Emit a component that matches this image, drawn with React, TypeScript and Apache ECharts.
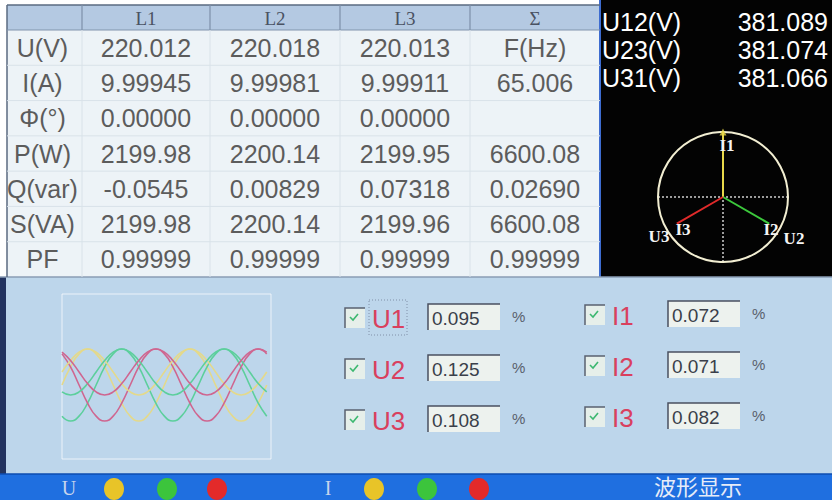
import { useEffect, useRef } from "react";
import * as echarts from "echarts";

// ---------- data ----------
const columnHeads = ["L1", "L2", "L3", "Σ"];
const rowLabels = ["U(V)", "I(A)", "Φ(°)", "P(W)", "Q(var)", "S(VA)", "PF"];
const valuesL1 = ["220.012", "9.99945", "0.00000", "2199.98", "-0.0545", "2199.98", "0.99999"];
const valuesL2 = ["220.018", "9.99981", "0.00000", "2200.14", "0.00829", "2200.14", "0.99999"];
const valuesL3 = ["220.013", "9.99911", "0.00000", "2199.95", "0.07318", "2199.96", "0.99999"];
const valuesSum = ["F(Hz)", "65.006", "", "6600.08", "0.02690", "6600.08", "0.99999"];

const lineVoltLabels = ["U12(V)", "U23(V)", "U31(V)"];
const lineVoltValues = ["381.089", "381.074", "381.066"];

const phasorNames = ["I1", "I2", "I3"];
const phasorAngles = [90, 330, 210];
const phasorLengths = [1, 0.82, 0.82];
const phaseColors = ["#e8d84a", "#3cc83c", "#e02a2a"];
const lampColors = ["#e8c428", "#3cc43c", "#e32a2a"];

const waveAngles = [0, 30, 60, 90, 120, 150, 180, 210, 240, 270, 300, 330, 360, 390, 420, 450, 480, 510, 540, 570, 600, 630, 660, 690, 720];
const u1Wave = [0, 156, 269, 311, 269, 156, 0, -156, -269, -311, -269, -156, 0, 156, 269, 311, 269, 156, 0, -156, -269, -311, -269, -156, 0];
const u2Wave = [-269, -311, -269, -156, 0, 156, 269, 311, 269, 156, 0, -156, -269, -311, -269, -156, 0, 156, 269, 311, 269, 156, 0, -156, -269];
const u3Wave = [269, 156, 0, -156, -269, -311, -269, -156, 0, 156, 269, 311, 269, 156, 0, -156, -269, -311, -269, -156, 0, 156, 269, 311, 269];
const i1Wave = [0, 7.1, 12.2, 14.1, 12.2, 7.1, 0, -7.1, -12.2, -14.1, -12.2, -7.1, 0, 7.1, 12.2, 14.1, 12.2, 7.1, 0, -7.1, -12.2, -14.1, -12.2, -7.1, 0];
const i2Wave = [-12.2, -14.1, -12.2, -7.1, 0, 7.1, 12.2, 14.1, 12.2, 7.1, 0, -7.1, -12.2, -14.1, -12.2, -7.1, 0, 7.1, 12.2, 14.1, 12.2, 7.1, 0, -7.1, -12.2];
const i3Wave = [12.2, 7.1, 0, -7.1, -12.2, -14.1, -12.2, -7.1, 0, 7.1, 12.2, 14.1, 12.2, 7.1, 0, -7.1, -12.2, -14.1, -12.2, -7.1, 0, 7.1, 12.2, 14.1, 12.2];
const waveColors = ["#e4d98a", "#5ccf9c", "#cf6690"];

const uChannels = ["U1", "U2", "U3"];
const iChannels = ["I1", "I2", "I3"];
const harmonicU = ["0.095", "0.125", "0.108"];
const harmonicI = ["0.072", "0.071", "0.082"];

// ---------- layout ----------
const colEdges = [7, 82, 210, 340, 470, 600];
const headTop = 5;
const headBottom = 30;
const tableBottom = 277;
const rowH = (tableBottom - headBottom) / rowLabels.length;
const SANS = "Liberation Sans, Arial, sans-serif";
const SERIF = "Liberation Serif, Times New Roman, serif";

function buildGraphics() {
  const els: any[] = [];
  const bg = (e: any) => els.push({ ...e, z: -10 });
  const fg = (e: any) => els.push({ ...e, z: 100 });

  // panels
  bg({ type: "rect", shape: { x: 7, y: headBottom, width: 593, height: tableBottom - headBottom }, style: { fill: "#edf3f7" } });
  bg({ type: "rect", shape: { x: 7, y: headTop, width: 593, height: headBottom - headTop }, style: { fill: "#b4c9e2" } });
  bg({ type: "rect", shape: { x: 600, y: 0, width: 232, height: tableBottom }, style: { fill: "#030303" } });
  bg({ type: "line", shape: { x1: 600, y1: 0, x2: 600, y2: tableBottom }, style: { stroke: "#3d6cd0", lineWidth: 2 } });
  bg({ type: "rect", shape: { x: 0, y: tableBottom, width: 832, height: 474 - tableBottom }, style: { fill: "#bdd6eb" } });
  bg({ type: "rect", shape: { x: 0, y: tableBottom, width: 6, height: 500 - tableBottom }, style: { fill: "#22335f" } });
  bg({ type: "line", shape: { x1: 0, y1: tableBottom, x2: 832, y2: tableBottom }, style: { stroke: "#8a9cb4", lineWidth: 1.5 } });
  bg({ type: "rect", shape: { x: 0, y: 474, width: 832, height: 26 }, style: { fill: "#1f6fe0" } });
  bg({ type: "line", shape: { x1: 0, y1: 474, x2: 832, y2: 474 }, style: { stroke: "#0e4cb0", lineWidth: 1.5 } });

  // table lines
  bg({ type: "line", shape: { x1: 7, y1: headTop, x2: 600, y2: headTop }, style: { stroke: "#5a6a80", lineWidth: 1.5 } });
  bg({ type: "line", shape: { x1: 7, y1: headTop, x2: 7, y2: tableBottom }, style: { stroke: "#5a6a80", lineWidth: 1.5 } });
  bg({ type: "line", shape: { x1: 7, y1: headBottom, x2: 600, y2: headBottom }, style: { stroke: "#8194ad", lineWidth: 1 } });
  for (let c = 1; c < colEdges.length - 1; c++) {
    bg({ type: "line", shape: { x1: colEdges[c], y1: headTop, x2: colEdges[c], y2: headBottom }, style: { stroke: "#7d90aa", lineWidth: 1.2 } });
    bg({ type: "line", shape: { x1: colEdges[c], y1: headBottom, x2: colEdges[c], y2: tableBottom }, style: { stroke: "#d9e2e9", lineWidth: 1 } });
  }
  for (let r = 1; r < rowLabels.length; r++) {
    const y = headBottom + r * rowH;
    bg({ type: "line", shape: { x1: 7, y1: y, x2: 600, y2: y }, style: { stroke: "#d9e2e9", lineWidth: 1 } });
  }

  // header texts
  columnHeads.forEach((h, i) => {
    fg({
      type: "text",
      x: (colEdges[i + 1] + colEdges[i + 2]) / 2,
      y: (headTop + headBottom) / 2 + 1,
      style: { text: h, fill: "#4a5262", font: `19px ${SERIF}`, align: "center", verticalAlign: "middle" },
    });
  });

  // body texts
  const cols = [rowLabels, valuesL1, valuesL2, valuesL3, valuesSum];
  cols.forEach((col, c) => {
    col.forEach((v, r) => {
      if (!v) return;
      fg({
        type: "text",
        x: (colEdges[c] + colEdges[c + 1]) / 2 + (c === 0 ? -2 : 0),
        y: headBottom + (r + 0.5) * rowH,
        style: { text: v, fill: "#5c5c5c", font: `25px ${SANS}`, align: "center", verticalAlign: "middle" },
      });
    });
  });

  // line voltages
  lineVoltLabels.forEach((l, i) => {
    const y = 22 + i * 28;
    fg({ type: "text", x: 602, y, style: { text: l, fill: "#ffffff", font: `25px ${SANS}`, align: "left", verticalAlign: "middle" } });
    fg({ type: "text", x: 828, y, style: { text: lineVoltValues[i], fill: "#ffffff", font: `25px ${SANS}`, align: "right", verticalAlign: "middle" } });
  });

  // phasor labels
  const plab = [
    { t: "I1", x: 727, y: 145 },
    { t: "I3", x: 683, y: 229 },
    { t: "U3", x: 659, y: 236 },
    { t: "I2", x: 771, y: 229 },
    { t: "U2", x: 794, y: 238 },
  ];
  plab.forEach((p) =>
    fg({ type: "text", x: p.x, y: p.y, style: { text: p.t, fill: "#f4f4f4", font: `bold 17px ${SERIF}`, align: "center", verticalAlign: "middle" } })
  );

  // harmonic controls
  const drawRow = (x0: number, y0: number, name: string, val: string, focus: boolean, labelW: number) => {
    const cy = y0 + 13;
    fg({ type: "rect", shape: { x: x0, y: cy - 9, width: 20, height: 20 }, style: { fill: "#e6efea" } });
    fg({ type: "polyline", shape: { points: [[x0, cy + 11], [x0, cy - 9], [x0 + 20, cy - 9]] }, style: { stroke: "#5a6270", lineWidth: 1.5, fill: null } });
    fg({ type: "polyline", shape: { points: [[x0 + 5, cy], [x0 + 8, cy + 3], [x0 + 13, cy - 3]] }, style: { stroke: "#3cb870", lineWidth: 1.6, fill: null } });
    fg({ type: "text", x: x0 + 27, y: cy + 2, style: { text: name, fill: "#d9405e", font: `26px ${SANS}`, align: "left", verticalAlign: "middle" } });
    if (focus) {
      fg({ type: "rect", shape: { x: x0 + 24, y: cy - 17, width: labelW, height: 35 }, style: { fill: null, stroke: "#8090a8", lineWidth: 1, lineDash: [1, 2] } });
    }
    const bx = x0 + 83;
    fg({ type: "rect", shape: { x: bx, y: y0, width: 72, height: 26 }, style: { fill: "#edf2ee" } });
    fg({ type: "polyline", shape: { points: [[bx, y0 + 26], [bx, y0], [bx + 72, y0]] }, style: { stroke: "#4a5060", lineWidth: 1.5, fill: null } });
    fg({ type: "text", x: bx + 4, y: y0 + 14, style: { text: val, fill: "#3a3f4a", font: `19px ${SANS}`, align: "left", verticalAlign: "middle" } });
    fg({ type: "text", x: bx + 84, y: y0 + 12, style: { text: "%", fill: "#59606c", font: `15px ${SANS}`, align: "left", verticalAlign: "middle" } });
  };
  uChannels.forEach((n, i) => drawRow(345, 304 + i * 51, n, harmonicU[i], i === 0, 38));
  iChannels.forEach((n, i) => drawRow(585, 301 + i * 51, n, harmonicI[i], false, 30));

  // bottom bar
  fg({ type: "text", x: 69, y: 488, style: { text: "U", fill: "#c8d4ec", font: `20px ${SERIF}`, align: "center", verticalAlign: "middle" } });
  fg({ type: "text", x: 328, y: 488, style: { text: "I", fill: "#c8d4ec", font: `20px ${SERIF}`, align: "center", verticalAlign: "middle" } });
  [114, 167, 217].forEach((cx, i) => fg({ type: "ellipse", shape: { cx, cy: 489, rx: 10, ry: 11 }, style: { fill: lampColors[i] } }));
  [374, 427, 479].forEach((cx, i) => fg({ type: "ellipse", shape: { cx, cy: 489, rx: 10, ry: 11 }, style: { fill: lampColors[i] } }));
  fg({ type: "text", x: 654, y: 485, style: { text: "波形显示", fill: "#e6ecf8", font: `22px "Noto Sans CJK SC", sans-serif`, align: "left", verticalAlign: "middle" } });

  return els;
}

function buildOption(): any {
  const uWaves = [u1Wave, u2Wave, u3Wave];
  const iWaves = [i1Wave, i2Wave, i3Wave];
  const waveSeries: any[] = [];
  uWaves.forEach((w, k) =>
    waveSeries.push({
      name: uChannels[k],
      type: "line",
      xAxisIndex: 0,
      yAxisIndex: 0,
      data: waveAngles.map((a, i) => [a, w[i]]),
      smooth: true,
      showSymbol: false,
      lineStyle: { color: waveColors[k], width: 1.6 },
      z: 5,
    })
  );
  iWaves.forEach((w, k) =>
    waveSeries.push({
      name: iChannels[k],
      type: "line",
      xAxisIndex: 0,
      yAxisIndex: 1,
      data: waveAngles.map((a, i) => [a, w[i]]),
      smooth: true,
      showSymbol: false,
      lineStyle: { color: waveColors[k], width: 1.6 },
      z: 5,
    })
  );

  const phasorSeries: any[] = phasorNames.map((n, k) => ({
    name: "phasor " + n,
    type: "line",
    coordinateSystem: "polar",
    data: [
      [0, phasorAngles[k]],
      [phasorLengths[k], phasorAngles[k]],
    ],
    symbol: "none",
    lineStyle: { color: phaseColors[k], width: 2 },
    z: 10,
  }));
  phasorSeries.push({
    name: "arrow",
    type: "scatter",
    coordinateSystem: "polar",
    data: [[phasorLengths[0], phasorAngles[0]]],
    symbol: "triangle",
    symbolSize: [7, 7],
    itemStyle: { color: phaseColors[0] },
    z: 11,
  });

  return {
    animation: false,
    backgroundColor: "#ffffff",
    grid: {
      left: 62,
      top: 294,
      width: 209,
      height: 165,
      show: true,
      borderColor: "rgba(255,255,255,0.7)",
      borderWidth: 1,
      backgroundColor: "transparent",
    },
    xAxis: { type: "value", min: 0, max: 735, show: false },
    yAxis: [
      { type: "value", min: -639, max: 786, show: false },
      { type: "value", min: -53.3, max: 47.8, show: false },
    ],
    polar: { center: [723, 197], radius: 65 },
    angleAxis: {
      type: "value",
      min: 0,
      max: 360,
      interval: 90,
      startAngle: 0,
      clockwise: false,
      z: 5,
      axisLine: { show: true, lineStyle: { color: "#f2eed2", width: 2 } },
      axisTick: { show: false },
      axisLabel: { show: false },
      splitLine: { show: true, lineStyle: { color: "#cfcfcf", type: [2, 2], width: 1.5 } },
    },
    radiusAxis: {
      type: "value",
      min: 0,
      max: 1,
      axisLine: { show: false },
      axisTick: { show: false },
      axisLabel: { show: false },
      splitLine: { show: false },
    },
    series: [...waveSeries, ...phasorSeries],
    graphic: { elements: buildGraphics() },
  };
}

export default function App() {
  const ref = useRef<HTMLDivElement>(null);
  useEffect(() => {
    if (!ref.current) return;
    const chart = echarts.init(ref.current, undefined, { renderer: "svg" });
    chart.setOption(buildOption());
    return () => chart.dispose();
  }, []);
  return <div ref={ref} style={{ position: "absolute", left: 0, top: 0, width: 832, height: 500 }} />;
}
